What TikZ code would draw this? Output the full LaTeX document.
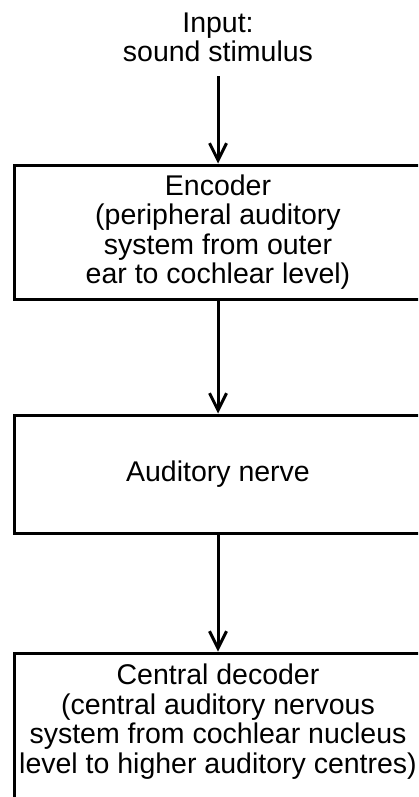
\documentclass[tikz,border=0pt]{standalone}
\usepackage{fontspec}
\setmainfont{Liberation Sans}
\usetikzlibrary{arrows.meta}
\begin{document}
\begin{tikzpicture}[x=1pt,y=-1pt,
  txt/.style={font=\fontsize{28.5}{29.5}\selectfont, align=center, inner sep=0pt},
  box/.style={draw, line width=3pt, minimum width=408pt, inner sep=0pt},
  conn/.style={line width=3pt, -{Straight Barb[length=17pt,width=17pt]}}]
\useasboundingbox (0,0) rectangle (418,797);
\clip (0,0) rectangle (418,797);
\node[txt] (input) at (218,37.5) {Input:\\sound stimulus};
\node[box, txt, minimum height=134pt] (enc) at (218,232)
  {Encoder\\(peripheral auditory\\system from outer\\ear to cochlear level)};
\node[box, txt, minimum height=118pt] (nerve) at (218,474) {Auditory nerve};
\node[box, minimum height=150pt] (dec) at (218,728) {};
\node[txt] (dectext) at (218,721.5)
  {Central decoder\\(central auditory nervous\\system from cochlear nucleus\\level to higher auditory centres)};
\draw[conn, shorten <=14pt] (input.south) -- (enc.north);
\draw[conn] (enc.south) -- (nerve.north);
\draw[conn] (nerve.south) -- (dec.north);
\end{tikzpicture}
\end{document}
